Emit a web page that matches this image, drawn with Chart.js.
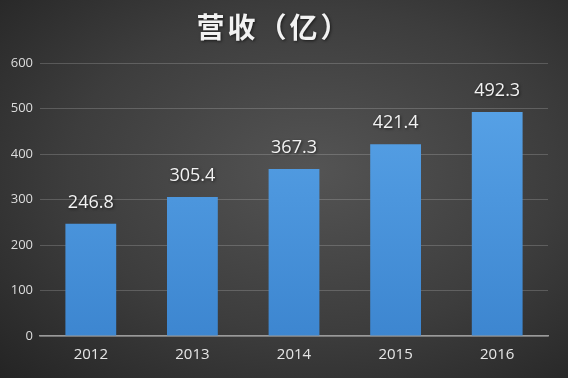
<!DOCTYPE html>
<html>
<head>
<meta charset="utf-8">
<script src="https://cdn.jsdelivr.net/npm/chart.js@4.4.0/dist/chart.umd.min.js"></script>
<style>
  html, body { margin: 0; padding: 0; }
  body {
    width: 568px; height: 378px; overflow: hidden;
    background: radial-gradient(ellipse at 55% 45%, #545454 0%, #3d3d3d 55%, #242424 100%);
  }
  #wrap { position: relative; width: 568px; height: 378px; }
</style>
</head>
<body>
<div id="wrap"><canvas id="c"></canvas></div>
<script>
// chart data
const years = ['2012', '2013', '2014', '2015', '2016'];
const revenue = [246.8, 305.4, 367.3, 421.4, 492.3];
const chartTitle = '营收（亿）';
const yMax = 600;
const yStep = 100;

const numFont = "'Open Sans', 'Noto Sans', sans-serif";

// Title + value labels drawn on top
const labelPlugin = {
  id: 'labels',
  afterDatasetsDraw(chart) {
    const ctx = chart.ctx;
    ctx.save();
    ctx.textAlign = 'center';
    ctx.textBaseline = 'middle';
    ctx.shadowColor = 'rgba(0,0,0,0.6)';
    ctx.shadowBlur = 3;
    ctx.shadowOffsetX = 1;
    ctx.shadowOffsetY = 1;

    ctx.fillStyle = '#f2f2f2';
    ctx.font = "bold 28px 'Noto Sans CJK SC', sans-serif";
    ctx.letterSpacing = '3px';
    ctx.fillText(chartTitle, 274, 27);
    ctx.letterSpacing = '0px';

    ctx.font = '18px ' + numFont;
    chart.getDatasetMeta(0).data.forEach((bar, i) => {
      ctx.fillText(revenue[i].toFixed(1), bar.x, bar.y - 21);
    });
    ctx.restore();
  }
};

function barGradient(context) {
  const area = context.chart.chartArea;
  if (!area) return '#4a92dc';
  const g = context.chart.ctx.createLinearGradient(0, area.top, 0, area.bottom);
  g.addColorStop(0, '#5ba6ea');
  g.addColorStop(1, '#3d86d0');
  return g;
}

new Chart(document.getElementById('c'), {
  type: 'bar',
  data: {
    labels: years,
    datasets: [{
      data: revenue,
      backgroundColor: barGradient,
      borderWidth: 0,
      categoryPercentage: 1,
      barPercentage: 0.5
    }]
  },
  options: {
    responsive: true,
    maintainAspectRatio: false,
    animation: false,
    layout: { padding: { top: 63, right: 20, left: 0, bottom: 0 } },
    plugins: {
      legend: { display: false },
      tooltip: { enabled: false }
    },
    scales: {
      x: {
        grid: { display: false, drawTicks: false },
        border: { color: '#9a9a9a', width: 1.5 },
        ticks: { color: '#e6e6e6', font: { size: 15, family: numFont }, padding: 10 },
        afterFit(scale) { scale.height = 42; }
      },
      y: {
        min: 0,
        max: yMax,
        ticks: { stepSize: yStep, color: '#dcdcdc', font: { size: 13, family: numFont }, padding: 7 },
        grid: { color: 'rgba(255,255,255,0.18)', drawTicks: false },
        border: { display: false },
        afterFit(scale) { scale.width = 40; }
      }
    }
  },
  plugins: [labelPlugin]
});
</script>
</body>
</html>
